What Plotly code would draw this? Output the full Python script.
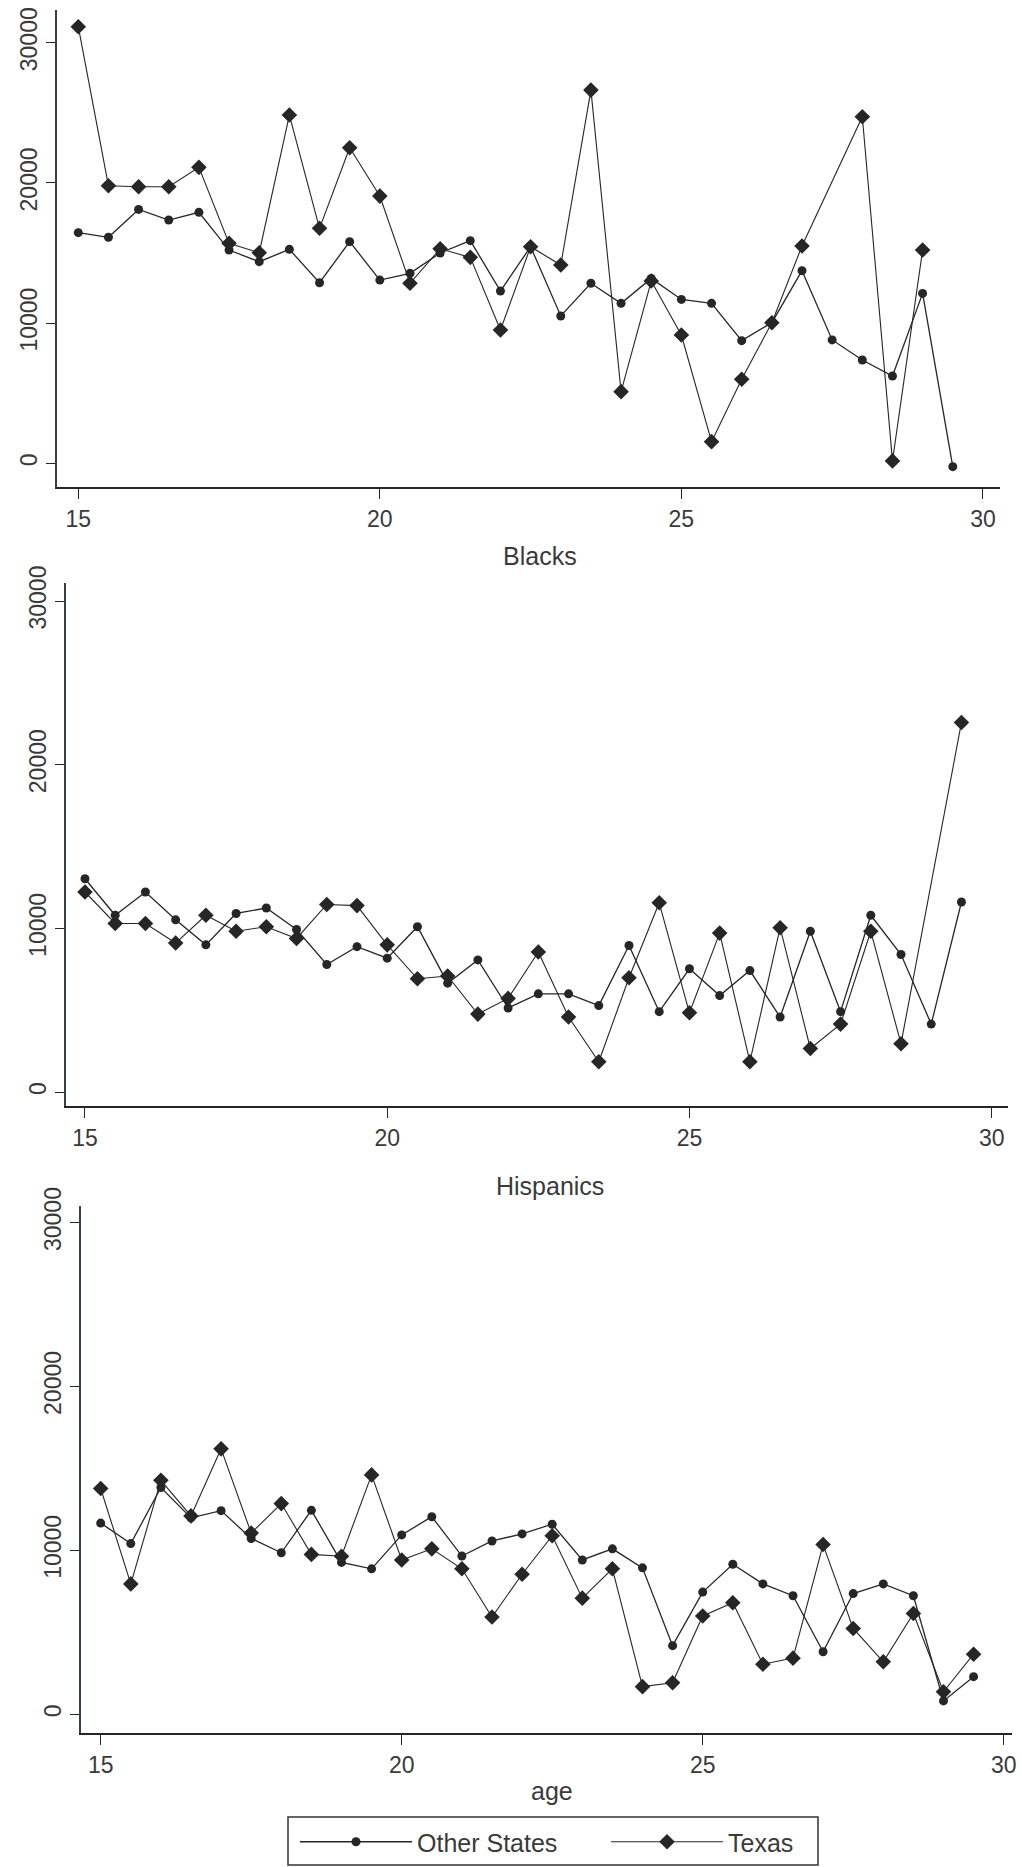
import plotly.graph_objects as go

# ---------------- data ----------------
ages = [15, 15.5, 16, 16.5, 17, 17.5, 18, 18.5, 19, 19.5,
        20, 20.5, 21, 21.5, 22, 22.5, 23, 23.5, 24, 24.5,
        25, 25.5, 26, 26.5, 27, 27.5, 28, 28.5, 29, 29.5]

whites_other = [16450, 16120, 18110, 17350, 17900, 15210, 14380, 15260, 12880, 15810,
                13070, 13550, 15000, 15880, 12290, 15450, 10510, 12840, 11410, 13190,
                11690, 11410, 8750, 10030, 13740, 8800, 7370, 6230, 12120, -240]
whites_texas = [31140, 19800, 19730, 19730, 21110, 15690, 15020, 24840, 16760, 22510,
                19060, 12840, 15300, 14690, 9510, 15450, 14140, 26620, 5110, 13000,
                9150, 1545, 5990, 10030, 15500, None, 24720, 170, 15210, None]

blacks_other = [13030, 10800, 12220, 10520, 8990, 10910, 11240, 9930, 7790, 8880,
                8180, 10100, 6650, 8070, 5130, 6000, 6000, 5280, 8950, 4910,
                7530, 5890, 7420, 4580, 9820, 4910, 10800, 8400, 4150, 11610]
blacks_texas = [12220, 10300, 10300, 9100, 10800, 9820, 10100, 9380, 11460, 11390,
                8990, 6920, 7090, 4760, 5720, 8550, 4580, 1850, 6980, 11560,
                4840, 9710, 1850, 10040, 2660, 4150, 9820, 2950, None, 22580]

hisp_other = [11660, 10410, 13830, 11980, 12420, 10720, 9850, 12440, 9260, 8870,
              10940, 12050, 9650, 10570, 11000, 11590, 9410, 10090, 8930, 4180,
              7450, 9150, 7950, 7230, 3810, 7360, 7950, 7230, 810, 2290]
hisp_texas = [13770, 7950, 14270, 12100, 16190, 11050, 12850, 9750, 9640, 14600,
              9410, 10090, 8870, 5930, 8540, 10890, 7080, 8870, 1680, 1920,
              5990, 6800, 3050, 3420, 10350, 5230, 3200, 6140, 1370, 3660]

panel_titles = ["Non-Hispanic Whites", "Blacks", "Hispanics"]
series_names = ["Other States", "Texas"]
y_ticks = [0, 10000, 20000, 30000]
y_ticktext = ["0", "10000", "20000", "30000"]
x_ticks = [15, 20, 25, 30]
x_ticktext = ["15", "20", "25", "30"]
x_title = "age"

# ---------------- figure ----------------
W, H = 1022, 1867
FONT = "Liberation Sans, Arial, Helvetica, sans-serif"
INK = "#262626"
TXT = "#3a3a3a"

def px_x(p):
    return p / W

def px_y(p):
    return 1 - p / H

panels = [
    dict(xd=(57, 1000), yd=(10, 487), xr=(14.647, 30.283), yr=(-1690, 32332),
         other=whites_other, texas=whites_texas),
    dict(xd=(66, 1008), yd=(583, 1106), xr=(14.686, 30.27), yr=(-855, 31100),
         other=blacks_other, texas=blacks_texas),
    dict(xd=(81, 1012), yd=(1206, 1733), xr=(14.673, 30.138), yr=(-1147, 31007),
         other=hisp_other, texas=hisp_texas),
]

fig = go.Figure()
layout_axes = {}
for i, p in enumerate(panels):
    k = "" if i == 0 else str(i + 1)
    xa, ya = "x" + k, "y" + k
    fig.add_trace(go.Scatter(
        x=ages, y=p["other"], mode="lines+markers", name=series_names[0],
        legendgroup="other", showlegend=(i == 0), connectgaps=True,
        line=dict(color=INK, width=1.3),
        marker=dict(symbol="circle", size=9, color=INK),
        xaxis=xa, yaxis=ya))
    fig.add_trace(go.Scatter(
        x=ages, y=p["texas"], mode="lines+markers", name=series_names[1],
        legendgroup="texas", showlegend=(i == 0), connectgaps=True,
        line=dict(color=INK, width=1.1),
        marker=dict(symbol="diamond", size=12, color=INK),
        xaxis=xa, yaxis=ya))
    layout_axes["xaxis" + k] = dict(
        domain=[px_x(p["xd"][0]), px_x(p["xd"][1])], range=list(p["xr"]),
        anchor=ya, showline=True, linecolor=INK, linewidth=2,
        ticks="outside", ticklen=10, tickwidth=1.3, tickcolor=INK,
        tickvals=x_ticks, ticktext=x_ticktext,
        tickfont=dict(family=FONT, size=23, color=TXT),
        showgrid=False, zeroline=False)
    layout_axes["yaxis" + k] = dict(
        domain=[px_y(p["yd"][1]), px_y(p["yd"][0])], range=list(p["yr"]),
        anchor=xa, showline=True, linecolor="#34404c", linewidth=1.5,
        ticks="outside", ticklen=9, tickwidth=1.3, tickcolor=INK,
        tickvals=y_ticks, ticktext=y_ticktext, tickangle=-90,
        tickfont=dict(family=FONT, size=23, color=TXT),
        showgrid=False, zeroline=False)

annotations = [
    # title of the first panel: mostly above the page edge in the reference
    dict(text=panel_titles[0], x=px_x(545), y=px_y(-10), xref="paper", yref="paper",
         xanchor="center", yanchor="bottom", showarrow=False,
         font=dict(family=FONT, size=25, color=TXT)),
    dict(text=panel_titles[1], x=px_x(540), y=px_y(556), xref="paper", yref="paper",
         xanchor="center", yanchor="middle", showarrow=False,
         font=dict(family=FONT, size=25, color=TXT)),
    dict(text=panel_titles[2], x=px_x(550), y=px_y(1186), xref="paper", yref="paper",
         xanchor="center", yanchor="middle", showarrow=False,
         font=dict(family=FONT, size=25, color=TXT)),
    dict(text=x_title, x=px_x(552), y=px_y(1791), xref="paper", yref="paper",
         xanchor="center", yanchor="middle", showarrow=False,
         font=dict(family=FONT, size=25, color=TXT)),
]

shapes = [
    dict(type="rect", xref="paper", yref="paper",
         x0=px_x(288), x1=px_x(818), y0=px_y(1865), y1=px_y(1817),
         line=dict(color="#333333", width=1.5), fillcolor="rgba(0,0,0,0)"),
]

fig.update_layout(
    width=W, height=H,
    margin=dict(l=0, r=0, t=0, b=0, autoexpand=False),
    paper_bgcolor="white", plot_bgcolor="white",
    annotations=annotations,
    shapes=shapes,
    showlegend=True,
    legend=dict(orientation="h", x=px_x(295), y=px_y(1819),
                xanchor="left", yanchor="top",
                borderwidth=0, bgcolor="rgba(0,0,0,0)",
                font=dict(family=FONT, size=25, color=TXT),
                itemwidth=112, entrywidth=184, tracegroupgap=0),
    **layout_axes,
)

fig.write_html("out.html")
